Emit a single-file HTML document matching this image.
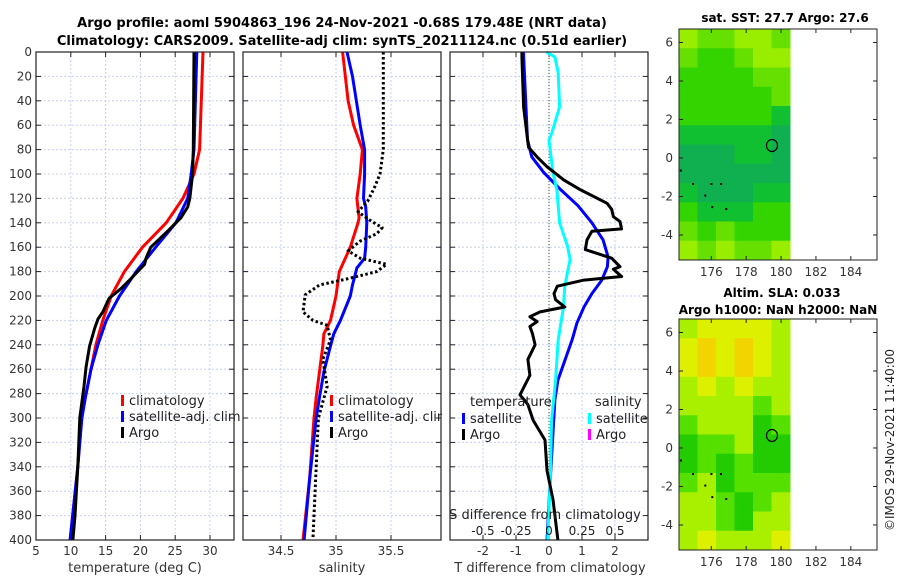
<!DOCTYPE html>
<html><head><meta charset="utf-8"><style>
body{margin:0;background:#fff;}
svg{display:block;font-family:"DejaVu Sans","Liberation Sans",sans-serif;}
</style></head><body>
<svg id="c" width="900" height="580" viewBox="0 0 900 580">
<text x="342" y="27" text-anchor="middle" font-weight="bold" font-size="13">Argo profile: aoml 5904863_196 24-Nov-2021 -0.68S 179.48E (NRT data)</text>
<text x="342" y="45" text-anchor="middle" font-weight="bold" font-size="13">Climatology: CARS2009. Satellite-adj clim: synTS_20211124.nc (0.51d earlier)</text>
<text x="785" y="22" text-anchor="middle" font-weight="bold" font-size="12">sat. SST: 27.7 Argo: 27.6</text>
<text x="782" y="297" text-anchor="middle" font-weight="bold" font-size="12">Altim. SLA: 0.033</text>
<text x="778" y="314" text-anchor="middle" font-weight="bold" font-size="12">Argo h1000: NaN h2000: NaN</text>
<text transform="translate(894,440) rotate(-90)" text-anchor="middle" font-size="12" fill="#222">©IMOS 29-Nov-2021 11:40:00</text>
</svg>
<script>
// depth levels (m)
const depthTicks=[0,20,40,60,80,100,120,140,160,180,200,220,240,260,280,300,320,340,360,380,400];
// Temperature panel
const tTicks=[5,10,15,20,25,30];
const climT_d=[0,80,100,120,140,160,180,200,220,240,260,283,300,340,400];
const climT=[29.0,28.5,27.7,26.1,23.7,20.3,17.7,15.8,14.6,13.6,12.9,12.1,11.5,11.0,9.9];
const satT_d=[0,80,100,120,140,160,180,200,220,240,260,283,300,340,400];
const satT=[28.1,27.7,27.3,26.8,25.1,22.2,19.4,17.0,15.1,13.9,12.9,12.1,11.6,11.0,9.9];
const argoT_d=[0,80,100,120,127,136,147,160,169,174,186,194,202,213,219,227,241,258,274,300,340,380,400];
const argoT=[27.7,27.6,27.5,27.1,26.8,25.8,23.9,21.5,20.8,20.6,18.6,17.2,15.5,14.6,13.9,13.4,12.7,12.2,11.9,11.3,11.0,10.6,10.3];
// Salinity panel
const sTicks=[34.5,35,35.5];
const climS_d=[0,40,60,80,100,120,136,140,160,180,200,220,231,241,262,283,300,350,400];
const climS=[35.06,35.11,35.16,35.24,35.22,35.19,35.21,35.2,35.13,35.03,35.0,34.95,34.89,34.88,34.85,34.82,34.8,34.76,34.7];
const satS_d=[0,20,60,80,100,120,127,140,160,169,177,191,200,220,231,241,262,283,300,350,400];
const satS=[35.1,35.15,35.22,35.26,35.26,35.25,35.27,35.28,35.27,35.26,35.19,35.15,35.13,35.04,34.98,34.95,34.89,34.85,34.82,34.76,34.71];
const argoS_d=[0,80,100,111,122,131,138,144,149,155,163,169,174,180,186,191,199,213,220,224,236,252,274,300,340,400];
const argoS=[35.43,35.43,35.4,35.35,35.29,35.2,35.31,35.42,35.37,35.22,35.11,35.22,35.46,35.37,35.1,34.85,34.72,34.7,34.79,34.92,34.95,34.88,34.92,34.84,34.82,34.79];
// Difference panel
const dTicks=[-2,-1,0,1,2];
const dsTicks=[-0.5,-0.25,0,0.25,0.5];
const dsTickLabels=["-0.5","-0.25","0","0.25","0.5"];
const argoDT_d=[0,4,45,78,86,94,105,113,124,129,135,139,145,147,154,162,169,176,178,184,187,192,198,203,209,213,217,221,225,231,240,252,265,281,289,302,318,343,367,400];
const argoDT=[-0.82,-0.82,-0.77,-0.62,-0.36,-0.06,0.45,0.96,1.76,1.9,1.95,2.15,2.2,1.3,1.15,1.1,1.9,2.15,1.95,2.2,1.06,0.25,0.15,0.2,0.48,-0.27,-0.58,-0.36,-0.58,-0.5,-0.42,-0.64,-0.58,-0.88,-0.64,-0.48,-0.12,-0.06,0.12,0.27];
const satDT_d=[0,3,72,86,99,113,126,140,154,168,176,187,198,209,222,236,269,285,340,400];
const satDT=[-0.77,-0.77,-0.65,-0.52,-0.15,0.36,0.88,1.3,1.64,1.79,1.77,1.6,1.3,1.06,0.85,0.7,0.27,0.18,0.06,-0.06];
const satDS_d=[0,4,17,45,67,72,99,113,140,159,170,192,209,236,269,302,350,400];
const satDS=[-0.02,0.045,0.07,0.08,0.02,0.0,0.03,0.06,0.08,0.14,0.16,0.12,0.11,0.07,0.05,0.02,0.01,-0.01];
// Map grids (lon 174.15-180.3, lat 6.7 to -5.3, rows 1deg)
const sstLevels=["#99ee00","#66e000","#33d400","#11c030","#10b050"];
const sstGrid=[[0,1,1,0,0,1],[1,2,2,1,0,0],[2,2,2,2,1,1],[2,2,2,2,2,1],[2,2,2,2,2,3],[3,3,3,3,3,4],[4,4,4,3,3,4],[4,4,4,4,4,4],[3,4,4,4,3,3],[2,3,3,3,2,2],[1,2,1,2,2,2],[0,1,0,1,1,0]];
const slaLevels=["#f2d400","#ddf000","#a8f000","#55e000","#22cc00"];
const slaGrid=[[2,1,1,1,1,2],[1,0,1,0,1,2],[1,0,1,0,1,2],[2,1,2,1,2,2],[2,2,2,2,3,2],[3,2,2,2,4,3],[4,3,3,2,4,4],[4,3,4,3,4,4],[3,2,4,3,3,3],[2,2,3,4,3,2],[2,2,3,4,2,2],[2,1,2,2,2,1]];
const latTicks=[-4,-2,0,2,4,6];
const lonTicks=[176,178,180,182,184];
const argoLon=179.48, argoLat=0.65;

const NS='http://www.w3.org/2000/svg';
const svg=document.getElementById('c');
function mk(tag,attrs,parent){const e=document.createElementNS(NS,tag);for(const k in attrs)e.setAttribute(k,attrs[k]);(parent||svg).appendChild(e);return e;}
const top0=52,bot0=540;
const yD=d=>top0+d*(bot0-top0)/400;
function txt(x,y,s,size,anchor,parent,fill){const t=mk('text',{x:x,y:y,'font-size':size||12,'text-anchor':anchor||'middle',fill:fill||'#333'},parent);t.textContent=s;return t;}

function panel(name,x0,x1,xScale,ticks,labels,showY){
  const g=mk('g',{});
  
  
  depthTicks.forEach(d=>{const l=mk('line',{x1:x0,x2:x1,y1:yD(d),y2:yD(d),stroke:'#c8cff0','stroke-width':1,'stroke-dasharray':'2,2'},g);
    mk('line',{x1:x0,x2:x0+5,y1:yD(d),y2:yD(d),stroke:'#222'},g);mk('line',{x1:x1-5,x2:x1,y1:yD(d),y2:yD(d),stroke:'#222'},g);
    if(showY){const t=txt(x0-4,yD(d)+4,String(d),12,'end',g);}});
  ticks.forEach((v,i)=>{const x=xScale(v);const l=mk('line',{x1:x,x2:x,y1:top0,y2:bot0,stroke:'#c8cff0','stroke-dasharray':'2,2'},g);
    mk('line',{x1:x,x2:x,y1:top0,y2:top0+5,stroke:'#222'},g);mk('line',{x1:x,x2:x,y1:bot0-5,y2:bot0,stroke:'#222'},g);
    const t=txt(x,bot0+15,labels[i],12,'middle',g);});
  return g;
}
function frame(g,x0,x1){const r=mk('rect',{x:x0,y:top0,width:x1-x0,height:bot0-top0,fill:'none',stroke:'#222','stroke-width':1.2},g);}
function line(g,ds,vs,xs,color,name,dash){
  const p=ds.map((d,i)=>(i?'L':'M')+xs(vs[i]).toFixed(1)+','+yD(d).toFixed(1)).join('');
  const a={d:p,fill:'none',stroke:color,'stroke-width':3,'stroke-linejoin':'round'};
  if(dash){a['stroke-dasharray']='2.5,2.5';a['stroke-width']=3;}
  const e=mk('path',a,g);
  
  
}
function legend(g,x,y,color,label,name){
  const r=mk('rect',{x:x,y:y-9,width:3,height:11,fill:color},g);
  const t=txt(x+8,y+1,label,13,'start',g,'#222');
  
  
}

// Panel 1
const xT=v=>36+(v-5)*6.96;
const g1=panel('temperature-panel',36,234,xT,tTicks,tTicks.map(String),true);
line(g1,climT_d,climT,xT,'#ff0000','clim-temperature-line');
line(g1,satT_d,satT,xT,'#0000ff','sat-temperature-line');
line(g1,argoT_d,argoT,xT,'#000','argo-temperature-line');
legend(g1,121,404,'#ff0000','climatology','legend-climatology');
legend(g1,121,420,'#0000ff','satellite-adj. clim','legend-satellite');
legend(g1,121,436,'#000','Argo','legend-argo');
frame(g1,36,234);
const xl1=txt(135,572,'temperature (deg C)',13,'middle',g1);

// Panel 2
const xS=v=>281+(v-34.5)*110;
const g2=panel('salinity-panel',243,441,xS,sTicks,['34.5','35','35.5'],false);
line(g2,climS_d,climS,xS,'#ff0000','clim-salinity-line');
line(g2,satS_d,satS,xS,'#0000ff','sat-salinity-line');
line(g2,argoS_d,argoS,xS,'#000','argo-salinity-line',true);
legend(g2,330,404,'#ff0000','climatology','legend-climatology-s');
legend(g2,330,420,'#0000ff','satellite-adj. clim','legend-satellite-s');
legend(g2,330,436,'#000','Argo','legend-argo-s');
mk('rect',{x:442,y:405,width:8,height:20,fill:'#fff'},g2);
frame(g2,243,441);
const xl2=txt(342,572,'salinity',13,'middle',g2);

// Panel 3
const xDT=v=>549+v*33;
const xDS=v=>549+v*132;
const g3=panel('difference-panel',450,648,xDT,dTicks,dTicks.map(String),false);
const z=mk('line',{x1:549,x2:549,y1:top0,y2:bot0,stroke:'#335533','stroke-dasharray':'1,2'},g3);
line(g3,satDT_d,satDT,xDT,'#0000ff','sat-t-diff-line');
line(g3,satDS_d,satDS,xDS,'#00ffff','sat-s-diff-line');
line(g3,argoDT_d,argoDT,xDT,'#000','argo-t-diff-line');
const lt=txt(470,406,'temperature',13,'start',g3,'#222');
const ls=txt(595,406,'salinity',13,'start',g3,'#222');
legend(g3,462,422,'#0000ff','satellite','legend-t-satellite');
legend(g3,462,438,'#000','Argo','legend-t-argo');
legend(g3,588,422,'#00ffff','satellite','legend-s-satellite');
legend(g3,588,438,'#ff00ff','Argo','legend-s-argo');
const st=txt(545,519,'S difference from climatology',13,'middle',g3,'#222');
dsTicks.forEach((v,i)=>{const t=txt(xDS(v),535,dsTickLabels[i],12,'middle',g3,'#222');});
frame(g3,450,648);
const xl3=txt(550,572,'T difference from climatology',13,'middle',g3);

// Maps
function map(name,yTop,yBot,grid,levels){
  const g=mk('g',{});
  
  
  const x0=679,x1=877,lonL=174.15,lonR=185.5;
  const xL=v=>x0+(v-lonL)*(x1-x0)/(lonR-lonL);
  const yL=v=>yTop+(6.7-v)*(yBot-yTop)/12;
  const cw=(790-x0)/grid[0].length, ch=(yBot-yTop)/grid.length;
  grid.forEach((row,r)=>row.forEach((v,c)=>{const e=mk('rect',{x:x0+c*cw,y:yTop+r*ch,width:cw+0.5,height:ch+0.5,fill:levels[v]},g);
    }));
  [[174.2,-0.6],[174.9,-1.3],[175.6,-1.9],[175.95,-1.3],[176.5,-1.3],[176.0,-2.5],[176.8,-2.6]].forEach(p=>mk('rect',{x:xL(p[0]),y:yL(p[1]),width:2,height:2,fill:'#000'},g));
  const c=mk('ellipse',{cx:xL(argoLon),cy:yL(argoLat),rx:5.5,ry:6,fill:'none',stroke:'#000','stroke-width':1.2},g);
  
  mk('rect',{x:x0,y:yTop,width:x1-x0,height:yBot-yTop,fill:'none',stroke:'#222'},g);
  latTicks.forEach(v=>{const y=yL(v);mk('line',{x1:x0,x2:x0+4,y1:y,y2:y,stroke:'#222'},g);mk('line',{x1:x1-4,x2:x1,y1:y,y2:y,stroke:'#222'},g);
    const t=txt(x0-6,y+4,String(v),12,'end',g);});
  lonTicks.forEach(v=>{const x=xL(v);mk('line',{x1:x,x2:x,y1:yBot-4,y2:yBot,stroke:'#222'},g);mk('line',{x1:x,x2:x,y1:yTop,y2:yTop+4,stroke:'#222'},g);
    const t=txt(x,yBot+16,String(v),12,'middle',g);});
}
map('sst-map',29,260,sstGrid,sstLevels);
map('sla-map',319,550,slaGrid,slaLevels);
</script>
</body></html>
